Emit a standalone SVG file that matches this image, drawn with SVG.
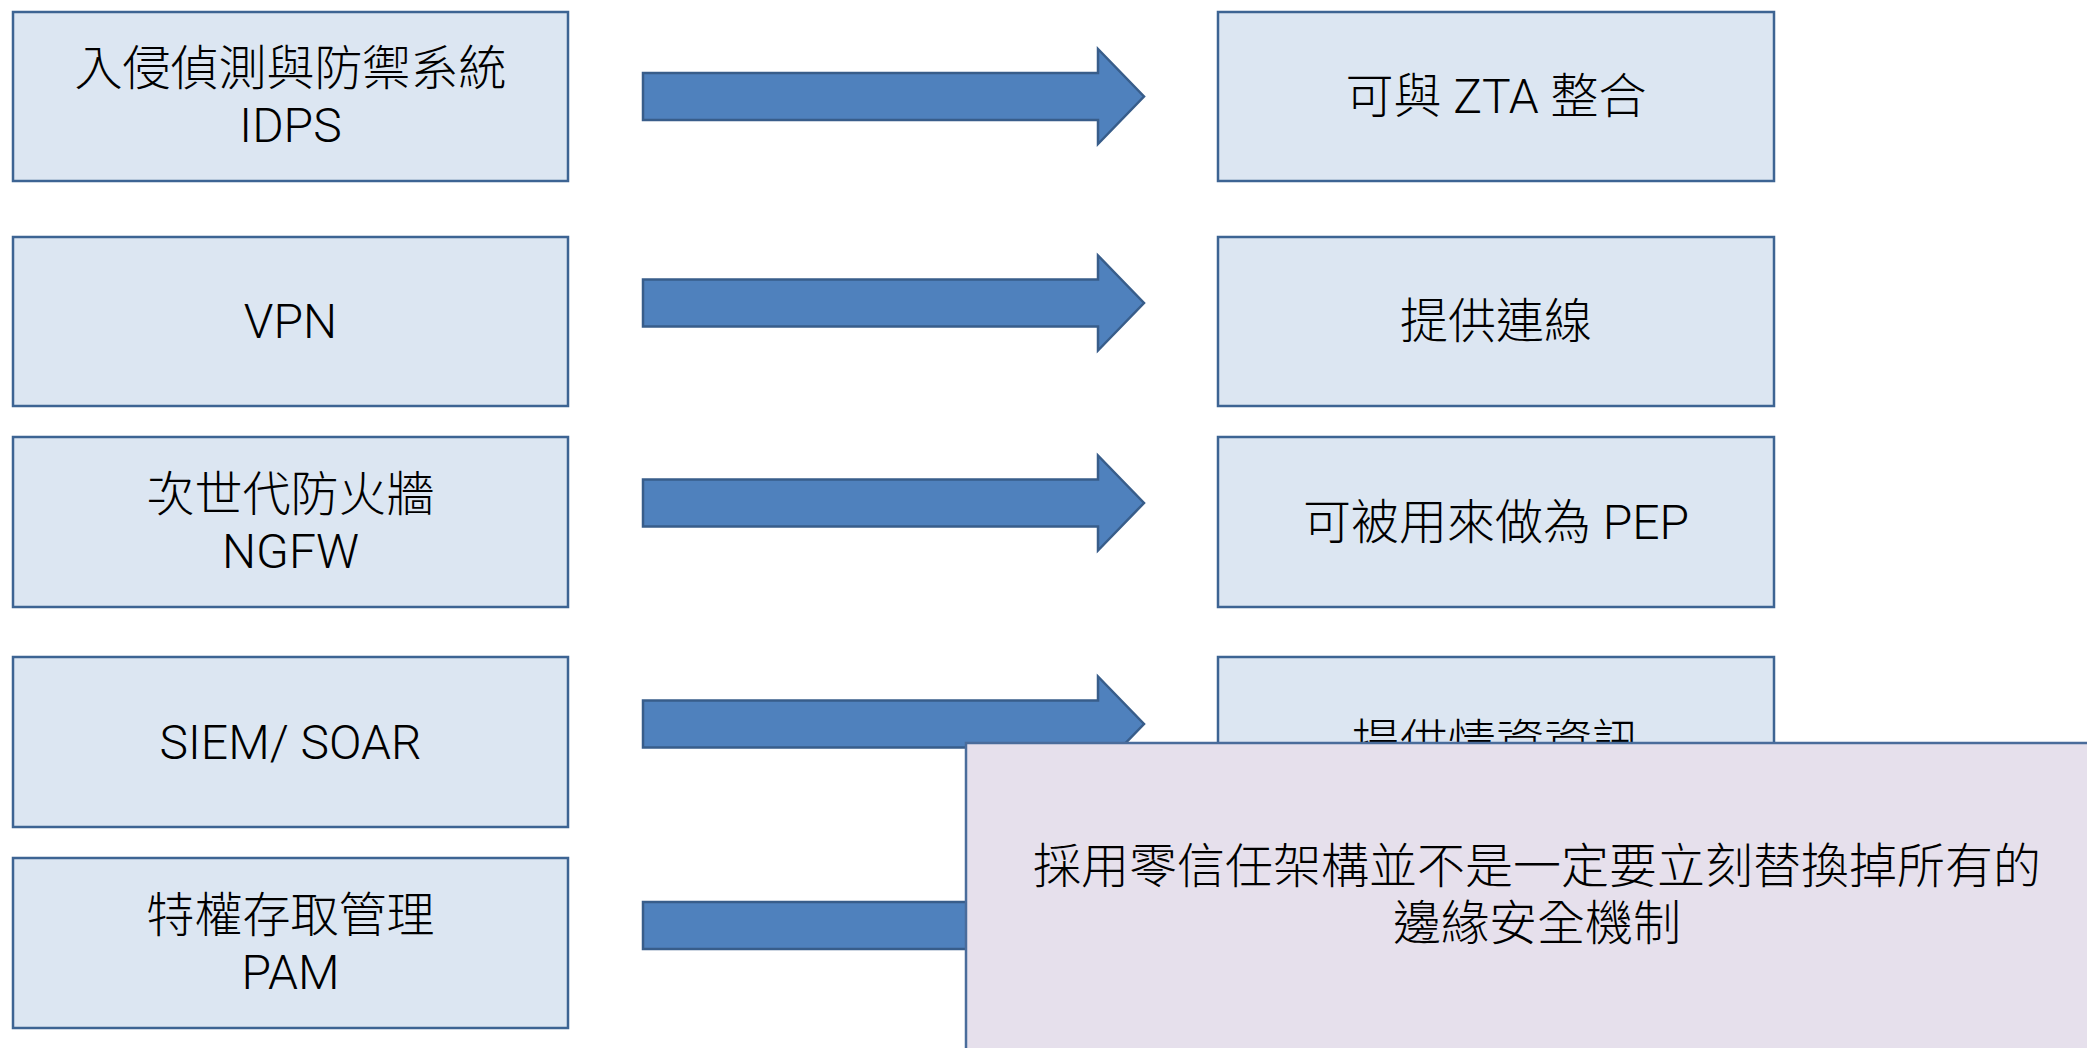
<svg xmlns="http://www.w3.org/2000/svg" width="2087" height="1048" viewBox="0 0 2087 1048">
<defs>
<style>
.box{fill:#DCE6F2;stroke:#3D6493;stroke-width:2.5}
.arr{fill:#4F81BD;stroke:#385D8A;stroke-width:2.5}
.note{fill:#E6E0EC;stroke:#4A6C9B;stroke-width:2.5}
text{font-family:Roboto,"Noto Sans CJK TC","Noto Sans CJK SC",sans-serif;font-size:48px;font-weight:300;fill:#000;text-anchor:middle;dominant-baseline:central}
</style>
</defs>
<rect x="0" y="0" width="2087" height="1048" fill="#FFFFFF"/>
<g id="connectors">
<polygon class="arr" points="643,73 1098,73 1098,49 1144,96.5 1098,144 1098,120 643,120"/>
<polygon class="arr" points="643,279.5 1098,279.5 1098,255.5 1144,303 1098,350.5 1098,326.5 643,326.5"/>
<polygon class="arr" points="643,479.5 1098,479.5 1098,455.5 1144,503 1098,550.5 1098,526.5 643,526.5"/>
<polygon class="arr" points="643,700.5 1098,700.5 1098,676.5 1144,724 1098,771.5 1098,747.5 643,747.5"/>
<polygon class="arr" points="643,902 1098,902 1098,878 1144,925.5 1098,973 1098,949 643,949"/>
</g>
<g id="idps">
<rect class="box" x="13" y="12" width="555" height="169"/>
<text><tspan x="290.5" y="67.5">入侵偵測與防禦系統</tspan><tspan x="290.5" y="124.5">IDPS</tspan></text>
</g>
<g id="vpn">
<rect class="box" x="13" y="237" width="555" height="169"/>
<text x="290.5" y="321.5">VPN</text>
</g>
<g id="ngfw">
<rect class="box" x="13" y="437" width="555" height="170"/>
<text><tspan x="290.5" y="493.5">次世代防火牆</tspan><tspan x="290.5" y="550.5">NGFW</tspan></text>
</g>
<g id="siem">
<rect class="box" x="13" y="657" width="555" height="170"/>
<text x="290.5" y="742">SIEM/ SOAR</text>
</g>
<g id="pam">
<rect class="box" x="13" y="858" width="555" height="170"/>
<text><tspan x="290.5" y="914.5">特權存取管理</tspan><tspan x="290.5" y="971.5">PAM</tspan></text>
</g>
<g id="zta">
<rect class="box" x="1218" y="12" width="556" height="169"/>
<text x="1496" y="96.5">可與 ZTA 整合</text>
</g>
<g id="conn">
<rect class="box" x="1218" y="237" width="556" height="169"/>
<text x="1496" y="321.5">提供連線</text>
</g>
<g id="pep">
<rect class="box" x="1218" y="437" width="556" height="170"/>
<text x="1496" y="522">可被用來做為 PEP</text>
</g>
<g id="intel">
<rect class="box" x="1218" y="657" width="556" height="170"/>
<text x="1496" y="742">提供情資資訊</text>
</g>
<g id="note">
<rect class="note" x="966" y="743" width="1142" height="320"/>
<text><tspan x="1537" y="865.5">採用零信任架構並不是一定要立刻替換掉所有的</tspan><tspan x="1537" y="922.5">邊緣安全機制</tspan></text>
</g>
</svg>
